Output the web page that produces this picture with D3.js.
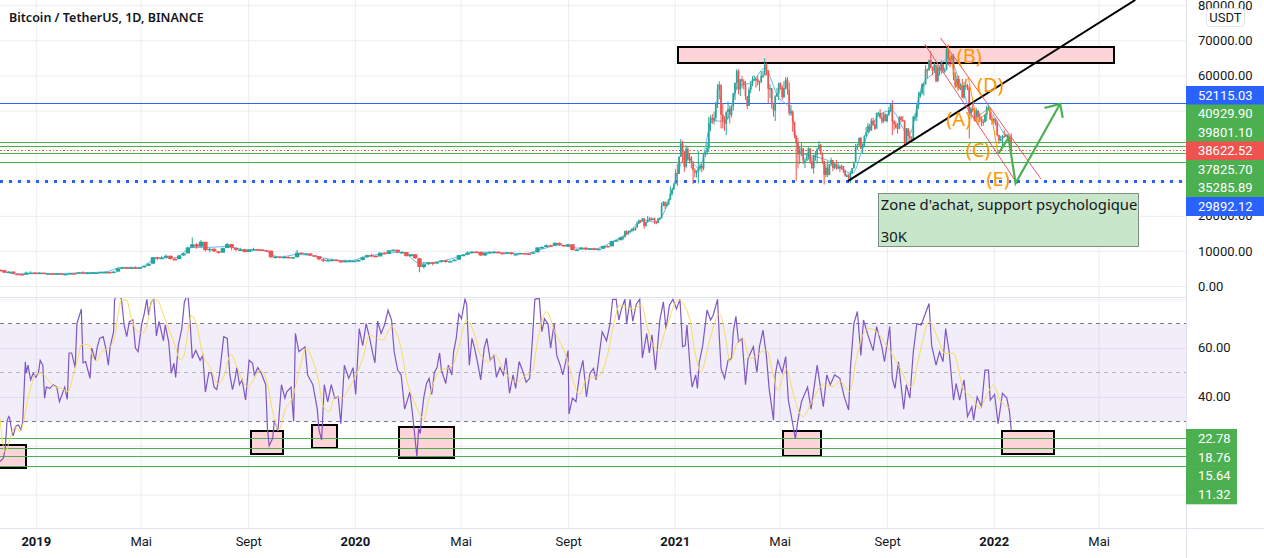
<!DOCTYPE html>
<html>
<head>
<meta charset="utf-8">
<style>
html, body { margin: 0; padding: 0; background: #fff; overflow: hidden; }
svg { display: block; font-family: Roboto, sans-serif; }
</style>
<script src="https://cdn.jsdelivr.net/npm/d3@7"></script>
</head>
<body>
<svg id="chart" width="1264" height="558"></svg>
<script>
// every day offset below counts from this first visible date
var startDate = new Date(2018, 10, 21);

// candles, thousands of USDT. 5-day steps up to oct 2020, then 2-day steps
var earlyStep = 5;
var earlyClose = [
	4.5,3.8,4.1,3.5,3.4,3.2,3.8,3.8,3.7,3.8,
	3.6,3.6,3.5,3.6,3.45,3.45,3.65,3.6,3.9,3.8,
	3.8,3.85,3.85,4.0,4.0,3.95,4.1,5.0,5.3,5.05,
	5.3,5.2,5.3,5.75,6.35,8.2,8.0,8.05,8.6,7.7,
	7.65,8.7,9.3,11.0,11.9,11.2,12.6,10.2,10.6,9.9,
	9.5,10.8,11.95,10.9,10.3,10.4,9.7,10.4,10.5,10.4,
	10.2,10.05,8.2,8.4,8.2,8.3,8.0,8.2,9.5,9.2,
	9.3,8.75,8.5,7.6,7.2,7.4,7.5,7.2,6.9,7.15,
	7.2,7.2,7.4,8.2,8.8,8.6,8.45,9.5,9.15,10.15,
	10.35,9.6,9.65,8.5,9.05,7.9,5.4,6.2,6.7,6.4,
	6.85,7.3,6.85,7.1,7.5,8.8,8.9,9.55,9.8,9.7,
	8.7,9.45,9.65,9.75,9.45,9.4,9.6,9.1,9.1,9.4,
	9.25,9.2,9.6,11.0,11.1,11.6,11.55,12.3,11.7,11.3,
	11.9,10.25,10.4,10.95,10.4,10.7,10.6,10.6,11.4,11.3,
	12.8,13.05,13.8];
var earlyHigh = [
	4.8,4.6,4.3,4.2,3.6,3.5,4.1,4.2,3.9,3.9,
	3.8,3.7,3.7,3.7,3.6,3.5,3.7,3.7,4.0,4.2,
	3.9,3.9,3.9,4.05,4.1,4.05,4.2,5.3,5.4,5.3,
	5.5,5.6,5.4,5.8,6.4,8.3,8.3,8.6,9.0,8.7,
	8.1,8.9,9.5,11.2,13.8,12.2,13.1,11.6,10.9,10.8,
	10.0,10.9,12.3,12.0,10.6,10.9,10.6,10.5,10.9,10.5,
	10.4,10.3,10.1,8.5,8.4,8.7,8.4,8.3,10.3,9.5,
	9.4,9.1,8.8,8.5,7.8,7.8,7.8,7.5,7.3,7.5,
	7.5,7.4,7.5,8.4,8.9,9.2,8.7,9.5,9.6,10.2,
	10.4,10.3,9.9,9.7,9.2,9.1,8.0,6.9,6.9,6.8,
	6.9,7.4,7.4,7.3,7.6,8.9,9.1,9.9,9.9,9.9,
	9.8,9.5,9.9,10.0,9.9,9.5,9.7,9.6,9.2,9.5,
	9.3,9.3,9.6,11.0,11.4,11.9,11.8,12.4,12.4,11.6,
	12.0,11.9,10.5,11.1,11.0,10.8,10.9,10.7,11.5,11.6,
	12.9,13.3,14.0];
var earlyLow = [
	4.3,3.7,3.7,3.4,3.3,3.2,3.4,3.7,3.6,3.7,
	3.5,3.5,3.45,3.5,3.4,3.4,3.4,3.55,3.6,3.7,
	3.7,3.75,3.8,3.85,3.95,3.9,3.9,4.1,4.9,4.95,
	5.0,5.1,5.1,5.3,5.7,6.4,7.4,7.8,8.0,7.5,
	7.5,7.6,8.6,9.3,10.8,10.6,11.0,9.9,9.6,9.6,
	9.2,9.4,10.8,10.2,9.9,10.0,9.6,9.6,10.2,10.2,
	10.0,9.9,8.0,7.8,7.9,8.0,7.9,7.9,8.1,9.0,
	9.1,8.6,8.3,7.3,6.8,7.1,7.2,7.1,6.5,6.9,
	7.1,7.1,6.9,7.3,8.0,8.3,8.2,8.3,9.0,9.1,
	9.8,9.3,9.4,8.4,8.4,7.7,3.9,5.0,6.0,5.9,
	6.3,6.6,6.6,6.8,7.1,7.4,8.6,8.8,9.2,9.5,
	8.6,8.6,9.3,9.3,9.2,9.1,9.1,8.9,8.9,9.1,
	9.2,9.1,9.1,9.5,10.6,11.0,11.1,11.3,11.4,11.2,
	11.2,10.1,10.1,10.3,10.2,10.3,10.2,10.4,10.6,11.2,
	11.3,12.8,13.0];

var lateStart = new Date(2020, 10, 1);
var lateStep = 2;
var lateClose = [
	13.7,14.0,15.6,14.8,15.3,15.7,16.3,15.9,16.7,17.8,18.7,18.4,19.2,17.1,18.2,
	18.8,19.2,19.0,19.2,18.5,18.0,19.2,19.3,22.8,23.9,22.8,23.2,24.7,26.3,27.4,29.0,
	32.2,31.9,36.8,40.6,38.2,34.0,39.1,36.0,36.6,35.5,33.0,32.3,32.5,33.5,34.3,
	33.5,37.6,38.1,39.3,46.5,47.9,47.2,47.9,52.1,55.9,57.4,48.8,47.1,46.2,
	49.6,50.4,48.8,51.2,54.9,57.8,61.2,55.9,58.9,58.3,57.4,54.1,51.3,55.9,57.6,58.9,
	59.0,58.9,58.1,58.1,59.8,60.0,63.1,61.4,56.2,56.4,51.8,50.0,54.0,54.9,57.7,
	56.6,53.8,56.4,58.8,55.9,49.2,49.7,46.8,42.9,40.7,37.5,38.7,39.3,35.7,35.7,
	36.7,39.2,35.5,33.6,37.3,37.3,39.0,40.2,38.0,35.6,31.7,33.7,31.6,34.7,35.9,
	33.6,34.7,33.7,33.9,33.8,34.2,32.7,31.4,31.5,30.8,32.1,33.6,35.3,39.5,40.0,42.2,
	39.2,39.7,42.8,43.8,45.6,44.4,47.1,46.0,44.8,49.3,49.3,48.0,46.9,48.9,47.0,
	48.8,50.0,51.7,46.8,46.1,45.1,44.9,48.1,47.3,47.2,40.7,44.9,42.8,42.2,41.5,
	48.2,48.2,51.5,54.0,55.0,57.4,57.4,61.7,61.5,64.3,62.2,61.3,63.1,58.4,62.2,61.3,
	63.2,61.4,61.5,67.5,64.9,64.2,65.5,60.1,56.9,59.0,56.3,57.1,53.7,57.2,57.0,
	56.5,49.3,50.6,50.5,47.1,50.0,48.3,47.6,46.8,46.7,48.9,50.8,50.8,47.5,47.1,
	47.7,46.4,43.0,41.5,41.8,42.7,42.6,43.1,42.2,42.4,38.6];
var lateHigh = [
	13.9,14.2,15.8,15.9,15.8,15.9,16.4,16.5,16.9,18.4,18.9,18.8,19.4,19.4,18.3,
	19.9,19.6,19.6,19.4,19.5,18.4,19.4,19.6,23.8,24.2,24.1,24.1,24.8,28.4,27.9,29.3,
	33.3,34.8,37.0,41.9,41.4,38.5,40.1,39.7,37.9,37.0,33.8,33.5,33.0,38.5,34.9,
	34.7,37.9,38.5,40.9,48.2,48.6,49.0,49.7,52.5,57.5,58.3,54.2,52.0,48.4,
	49.8,52.6,51.4,51.4,55.0,58.0,61.8,61.7,59.0,59.8,58.9,58.4,53.2,56.6,58.4,59.8,
	60.0,59.5,59.9,58.5,61.2,61.3,64.9,63.5,61.5,57.5,56.0,51.2,54.4,56.4,58.0,
	58.0,57.2,58.4,59.5,59.5,58.0,51.6,50.0,45.8,42.6,42.2,39.8,40.8,38.9,36.4,
	37.9,39.5,39.3,36.8,37.5,38.5,39.4,41.3,40.5,36.5,35.7,34.9,35.5,34.7,36.6,
	35.0,35.0,35.9,35.0,34.5,34.6,34.0,33.2,32.0,32.0,32.8,33.6,35.4,40.5,40.6,42.3,
	42.5,40.6,43.0,45.3,46.4,46.2,47.8,48.0,47.2,49.4,49.6,50.4,49.3,49.6,49.2,
	49.1,51.0,51.9,52.9,47.3,47.0,46.4,48.4,48.5,48.4,43.6,45.0,45.0,44.3,42.6,
	48.5,49.2,51.9,55.3,55.5,57.8,58.0,62.9,62.0,64.5,66.9,62.5,63.7,61.5,62.9,62.4,
	64.3,63.1,62.2,67.8,68.8,65.5,65.9,66.1,60.9,59.8,59.9,57.6,59.0,58.0,58.9,
	57.6,57.2,51.0,51.9,50.8,50.8,50.2,49.4,48.3,47.5,49.0,51.4,51.4,50.7,48.6,
	47.8,47.5,47.1,43.1,42.8,43.0,44.4,43.5,43.2,42.6,43.5];
var lateLow = [
	13.3,13.2,13.8,14.4,14.6,15.1,15.4,15.6,15.8,16.6,17.6,17.9,18.3,16.3,16.9,
	18.0,18.5,18.6,18.9,17.6,17.6,17.9,19.0,19.3,22.7,21.9,22.6,23.1,24.5,25.8,27.9,
	29.0,28.5,32.0,36.8,35.0,32.5,33.5,35.5,34.9,33.5,29.0,31.0,30.9,29.2,32.8,
	32.4,33.0,36.7,37.4,38.2,44.1,46.2,46.0,47.0,50.7,53.2,44.9,44.9,44.2,
	43.0,47.5,46.3,48.0,50.0,53.0,56.0,54.6,54.1,56.3,56.0,53.0,50.4,51.3,54.9,56.9,
	58.4,56.5,57.1,55.5,57.9,59.3,61.3,60.0,52.0,53.5,50.5,48.2,47.0,53.9,53.0,
	55.9,53.0,53.5,56.0,54.5,48.6,48.5,43.9,42.1,30.0,33.5,34.7,37.0,34.7,33.6,
	35.7,36.0,34.8,33.3,32.0,35.7,34.9,38.8,37.4,34.8,28.9,31.0,31.0,32.0,34.2,
	32.7,33.3,33.1,33.3,32.4,33.1,32.2,31.1,31.0,30.4,29.3,32.0,33.4,36.4,38.8,41.0,
	39.0,37.6,39.9,42.5,43.7,43.8,44.2,45.6,44.4,46.6,48.3,47.6,46.3,46.4,46.9,
	46.6,48.4,49.5,43.0,44.4,44.8,43.4,44.7,46.7,46.9,39.6,40.8,40.8,40.8,40.8,
	41.4,47.1,47.0,50.4,53.6,54.5,54.3,57.6,59.1,61.3,62.0,60.0,60.7,58.0,58.1,59.9,
	60.4,60.7,60.7,63.5,62.8,62.3,64.1,58.6,56.4,56.5,55.7,55.8,53.5,53.3,55.9,
	55.8,42.0,47.5,49.5,46.9,47.0,45.8,46.7,45.5,45.6,46.6,47.0,50.0,47.3,45.9,
	46.2,45.7,42.6,40.5,41.2,39.7,42.4,42.6,41.5,41.2,38.4];

// light blue average running through the candles
var priceMaDays = [0,20,40,60,80,100,120,140,160,180,200,220,240,260,280,300,320,340,360,380,400,420,440,460,480,500,520,540,560,580,600,620,640,660,680,700,720,735,750,765,775,785,800,815,830,845,860,875,890,905,915,930,945,960,975,990,1005,1020,1040,1055,1070,1085,1100,1115,1130,1150,1157];
var priceMaValues = [4.5,3.4,3.7,3.5,3.65,3.8,4.0,5.3,5.3,8.0,8.0,11.0,11.0,11.3,10.3,10.2,8.2,9.0,8.5,7.5,7.2,8.5,9.2,9.65,6.5,6.85,8.0,9.5,9.65,9.4,9.25,10.5,11.7,10.8,10.6,12.5,15.5,18.8,18.2,24,32,37,33.5,47,47,57,58,62,54,50,38,37,36,34,32,41.5,48.5,50,43,57,61,65,57,48,50,43,41];

// RSI
var rsiDays = [
	0,4,6,8,10,11,13,15,18,21,
	24,26,29,30,32,35,38,41,44,46,
	49,51,53,57,61,65,68,71,74,77,
	79,82,86,88,91,93,95,98,103,105,
	109,111,114,118,121,124,126,130,131,135,
	139,142,145,148,152,155,158,162,165,168,
	170,173,176,179,182,187,189,193,196,199,
	201,204,208,211,215,217,220,224,229,232,
	235,239,242,245,248,251,256,260,263,266,
	269,271,274,277,281,285,289,291,295,299,
	304,306,308,312,314,318,322,326,328,333,
	336,338,342,349,352,358,363,365,368,371,
	375,379,383,387,390,394,399,404,407,411,
	415,419,423,427,429,432,436,440,444,448,
	451,455,459,463,469,472,477,479,
	481,482,485,488,491,494,497,500,503,505,
	510,513,517,519,522,525,528,532,534,537,
	540,543,547,550,554,557,561,565,568,572,
	576,579,583,587,590,594,599,602,606,609,
	612,617,620,623,627,630,634,637,641,644,
	647,650,651,655,659,663,667,671,675,679,
	682,689,694,698,701,705,708,711,715,717,
	721,724,728,732,735,740,743,746,750,755,
	759,762,766,770,774,778,781,784,786,790,
	792,796,798,800,804,809,813,816,821,823,
	825,829,833,837,839,842,845,849,853,856,
	862,866,869,873,877,880,885,887,890,895,
	899,902,907,910,913,917,924,928,935,942,
	946,950,955,
	961,966,971,973,977,981,985,988,993,999,
	1003,1009,1012,1018,1021,1024,1028,1034,1037,1041,
	1045,1049,1054,1063,1066,1071,1075,1079,1082,1086,
	1091,1094,1098,1103,1107,1112,1114,1118,1123,1127,
	1131,1133,1138,1142,1147,1152,1155,1157];
var rsiValues = [
	13.5,15,19,30,32,31.5,27,24,28,28.5,
	26.5,30,54.4,49.7,53,47,49.7,48,50,55,
	53,39.5,44,43.5,45,44,38,41,44,39,
	58,58,52,70,73.5,76,54,54.5,47.6,60,
	55,60,64,64.7,60,53,60.5,66.7,79.7,83,
	80,69.5,64.7,70.8,71.5,60,58.5,69.5,74,80,
	73.5,79,80,65,71,63,69.5,62.6,49.7,53.8,
	48,61,68,79,82,73.5,55.8,59,55,57,
	42,50,49.7,44,43,49,64.7,64,49,43,
	47.6,52,45,47,38.7,55,53.8,49,52,49.7,
	45,27,20,23,30.5,26,45,39.5,42,44,
	30,66,58.5,60.5,49,45,35,26.5,22.3,45,
	38,45,39.5,40,29,53,47.6,52,41,68,
	61,70,64,57,54,71,66,69.5,75.6,71.5,
	58.5,51,49,35,42,33,15.5,27,
	25,31,40,45.5,47.6,41,50,52,58,51,
	45.5,53,49,58.5,64,74,72,80,78,53,
	64,60,53,47,60,64,55,57,48,52,
	49,56,41.5,49,43.5,54.5,49.7,46,47.6,62.6,
	80,80.5,66.7,72,70,60,70,57,53,49,
	54,59,33,39.5,38,49,55,40,49.7,51.7,
	47,66.7,63,70,80,80,71.5,76,80,70,
	80,71,78,80,56,66,58,65.4,51,71.5,
	79,68,77.6,80,76,80,60.6,61,69.5,50,
	44,49,43.5,54,61,75.6,71.5,73.5,80,64.7,
	51.7,47.6,55,55.8,66.7,73,62.6,64,45,55.8,
	60.6,50,60.6,67.4,56.5,43.5,30.5,49,55,50,
	56.5,38.7,29,22.8,30.5,38,44,35,53,36,
	49,45,49,
	47.6,40,34.6,51.7,70,75,57,71.5,65.4,59,
	68.8,60.6,54.4,68.8,47.6,43.5,54.4,35,45,39.5,
	58.5,70,69.5,78.3,61,53,58.5,54.4,68,58.5,
	38.7,45.5,38.7,47,32,36,30.5,40,36,51,
	51,38.7,41,29,41.5,39.5,34,26.5];

var rsiMaDays = [0,2,6,10,13,17,23,27,32,36,40,48,55,63,70,78,84,90,93,101,107,111,116,124,131,135,139,145,150,158,164,170,174,180,187,192,200,206,210,219,225,232,240,250,256,264,271,278,284,291,297,305,312,319,326,335,343,350,356,364,370,377,383,391,398,406,415,423,431,438,448,453,459,465,474,481,485,490,498,505,517,524,534,543,549,559,566,576,591,602,609,615,625,635,648,658,663,671,684,696,702,709,724,734,740,747,753,762,776,789,795,802,812,823,831,835,844,850,858,877,884,890,900,907,914,919,928,942,953,961,972,980,988,995,1003,1014,1028,1043,1052,1063,1073,1081,1091,1102,1113,1121,1129,1137,1144,1157];
var rsiMaValues = [31.2,24.4,17.4,21,24.4,27.8,25.8,29.9,39.4,44.9,49,49.7,46.9,44.2,43.5,42.2,49,57.2,61.5,61.5,55.8,54.7,58.5,59.9,64,73.5,79.7,79.7,72.2,66.7,66.3,72.2,79.7,79.7,73.5,68.8,61.3,55.4,56.5,73.3,69.5,57.2,52.4,45.2,48.3,57.4,52.4,46.2,44.2,47.6,51,46.9,34,26.4,34.6,40.1,51.7,59.9,56.5,47.6,36,34,40.1,39.4,42.8,47.9,55.8,65.4,64,63.3,68.8,66.7,59.9,47.6,38,32.6,30.5,38,47.6,51,52.4,59.2,71.5,65.4,57.8,54.4,57.2,51,46,49,50.3,62.6,74.9,66.7,56.5,44.2,41,47.6,48.3,58.5,69.5,77.6,76,77.6,69.5,61.3,59.2,68,79.7,72.2,58.5,50.3,63.3,74.2,62.6,54.4,62.6,64,55.8,59.2,50.3,42.8,51.4,42.2,34,31.9,37.4,44.9,44.2,46.5,42.2,55.8,66,68,66.7,61.3,53,44.2,57.2,70.8,64,57.8,57.8,43.5,39.4,35.3,40.8,44.9,38.7,35.3];

// axis ticks. 30000 to 50000 sit behind the price tags, so only the grid keeps them
var priceTicks = [0,10,20,30,40,50,60,70,80];
var priceLabelTicks = [0,10,20,60,70,80];
var rsiGridTicks = [0,20,40,60,80];
var rsiLabelTicks = [40,60];
var rsiLevels = [70,50,30];
var dateTicks = [new Date(2019,0,1),new Date(2019,4,1),new Date(2019,8,1),new Date(2020,0,1),new Date(2020,4,1),new Date(2020,8,1),new Date(2021,0,1),new Date(2021,4,1),new Date(2021,8,1),new Date(2022,0,1),new Date(2022,4,1)];
var monthNames = {4:'Mai',8:'Sept'};

// drawn levels and their price tags, top to bottom
var tagPrices = [52115.03,40929.90,39801.10,38622.52,37825.70,35285.89,29892.12];
var tagColors = ['#2962ff','#4caf50','#4caf50','#ef5350','#4caf50','#4caf50','#2962ff'];
var greenLevels = [40929.90,39801.10,37825.70,35285.89];
var rsiTagValues = [22.78,18.76,15.64,11.32];

// annotations: [day offset, price in thousands]
var resistanceBox = [[776,68.1],[1275,63.5]];
var trendLine = [[970,29.9],[1299,81.5]];
var channelLow = [[1058,68.9],[1164,29.1]];
var channelHigh = [[1076,70.7],[1191,30.5]];
var waveLine = [[1085,68.1],[1096,55.8],[1108,59.3],[1118,46.4],[1133,50.7],[1142,37.6]];
var arrowPath = [[1142,37.6],[1154,42.2],[1162,29.3],[1213,51.9]];
var arrowHead = [[1195,50.7],[1213,51.9],[1216,47.9]];
var waveLabels = ['(B)','(D)','(A)','(C)','(E)'];
var waveLabelPos = [[1109,65.5],[1133,57.3],[1097,47.6],[1119,38.7],[1142,30.5]];
var noteBox = [[1005,26.3],[1303,11.2]];
var noteLines = ["Zone d'achat, support psychologique",'30K'];

// pink boxes on the RSI pane: [first day, last day, top, bottom]
var rsiBoxes = [[-5,30,20.3,11],[287,324,26.2,16.6],[357,386,28.6,19.2],[456,519,27.8,15],[896,939,26.2,15.9],[1146,1206,26.2,16.6]];

var paneRight = 1186, topPaneBottom = 297, rsiPaneTop = 298, rsiPaneBottom = 528;

function dayAt(d) { return d3.timeDay.offset(startDate, d); }

var x = d3.scaleTime().domain([startDate, dayAt(1357)]).range([0, paneRight]);
var price = d3.scaleLinear().domain([0, 80]).range([286, 5.2]);
var rsi = d3.scaleLinear().domain([0, 80]).range([494.5, 299.3]);

var svg = d3.select('#chart');
var defs = svg.append('defs');
defs.append('clipPath').attr('id', 'topClip').append('rect').attr('width', paneRight).attr('height', topPaneBottom);
defs.append('clipPath').attr('id', 'rsiClip').append('rect').attr('y', rsiPaneTop).attr('width', paneRight).attr('height', rsiPaneBottom - rsiPaneTop);

var gridColor = '#ebedf2';
var borderColor = '#e0e3eb';

// grids
function styleGrid(g) {
	g.select('.domain').remove();
	g.selectAll('line').attr('stroke', gridColor);
	g.selectAll('text').remove();
}
svg.append('g').call(d3.axisLeft(price).tickValues(priceTicks).tickSize(-paneRight)).call(styleGrid);
svg.append('g').call(d3.axisLeft(rsi).tickValues(rsiGridTicks).tickSize(-paneRight)).call(styleGrid);
svg.append('g').attr('transform', 'translate(0,' + rsiPaneBottom + ')')
	.call(d3.axisBottom(x).tickValues(dateTicks).tickSize(-rsiPaneBottom)).call(styleGrid);

// price pane
var pricePane = svg.append('g').attr('clip-path', 'url(#topClip)');

function priceLine(points) {
	return d3.line().x(function(p) { return x(dayAt(p[0])); }).y(function(p) { return price(p[1]); })(points);
}

pricePane.selectAll('.green').data(greenLevels).enter().append('line')
	.attr('x1', 0).attr('x2', paneRight)
	.attr('y1', function(d) { return price(d / 1000); }).attr('y2', function(d) { return price(d / 1000); })
	.attr('stroke', '#4caf50').attr('stroke-width', 1).attr('shape-rendering', 'crispEdges');
pricePane.append('line').attr('x1', 0).attr('x2', paneRight)
	.attr('y1', price(tagPrices[0] / 1000)).attr('y2', price(tagPrices[0] / 1000))
	.attr('stroke', '#2962ff').attr('stroke-width', 1).attr('shape-rendering', 'crispEdges');
pricePane.append('line').attr('x1', 0).attr('x2', paneRight)
	.attr('y1', price(tagPrices[3] / 1000)).attr('y2', price(tagPrices[3] / 1000))
	.attr('stroke', '#ef5350').attr('stroke-width', 1).attr('stroke-dasharray', '1.5 2').attr('shape-rendering', 'crispEdges');
pricePane.append('line').attr('x1', 0).attr('x2', paneRight)
	.attr('y1', price(tagPrices[6] / 1000)).attr('y2', price(tagPrices[6] / 1000))
	.attr('stroke', '#2962ff').attr('stroke-width', 3).attr('stroke-dasharray', '3 6').attr('shape-rendering', 'crispEdges');

// resistance box behind the candles
pricePane.append('rect')
	.attr('x', x(dayAt(resistanceBox[0][0]))).attr('y', price(resistanceBox[0][1]))
	.attr('width', x(dayAt(resistanceBox[1][0])) - x(dayAt(resistanceBox[0][0])))
	.attr('height', price(resistanceBox[1][1]) - price(resistanceBox[0][1]))
	.attr('fill', '#fdd5d8').attr('stroke', '#000').attr('stroke-width', 2).attr('shape-rendering', 'crispEdges');

// average line
pricePane.append('path')
	.attr('d', d3.line().curve(d3.curveMonotoneX)
		.x(function(d) { return x(dayAt(d)); })
		.y(function(d, i) { return price(priceMaValues[i]); })(priceMaDays))
	.attr('fill', 'none').attr('stroke', '#64b5f6').attr('stroke-width', 1);

function drawCandles(from, step, closes, highs, lows, firstOpen, bodyWidth) {
	var rows = closes.map(function(c, i) {
		return {
			date: d3.timeDay.offset(from, i * step),
			open: i ? closes[i - 1] : firstOpen,
			close: c, high: highs[i], low: lows[i]
		};
	});
	var g = pricePane.append('g');
	var candle = g.selectAll('g').data(rows).enter().append('g');
	candle.append('line')
		.attr('x1', function(d) { return x(d.date); }).attr('x2', function(d) { return x(d.date); })
		.attr('y1', function(d) { return price(d.high); }).attr('y2', function(d) { return price(d.low); })
		.attr('stroke', candleColor).attr('stroke-width', 1);
	candle.append('rect')
		.attr('x', function(d) { return x(d.date) - bodyWidth / 2; })
		.attr('width', bodyWidth)
		.attr('y', function(d) { return price(Math.max(d.open, d.close)); })
		.attr('height', function(d) { return Math.max(1.5, Math.abs(price(d.open) - price(d.close))); })
		.attr('fill', candleColor);
}
function candleColor(d) { return d.close >= d.open ? '#26a69a' : '#ef5350'; }

drawCandles(startDate, earlyStep, earlyClose, earlyHigh, earlyLow, 4.6, 4.4);
drawCandles(lateStart, lateStep, lateClose, lateHigh, lateLow, 13.8, 1.7);

// drawings over the candles
pricePane.append('path').attr('d', priceLine(trendLine)).attr('fill', 'none').attr('stroke', '#000').attr('stroke-width', 2);
[channelLow, channelHigh].forEach(function(c) {
	pricePane.append('path').attr('d', priceLine(c)).attr('fill', 'none').attr('stroke', '#f7525f').attr('stroke-width', 1);
});
pricePane.append('path').attr('d', priceLine(waveLine)).attr('fill', 'none').attr('stroke', '#ff9800').attr('stroke-width', 1);
[arrowPath, arrowHead].forEach(function(c) {
	pricePane.append('path').attr('d', priceLine(c)).attr('fill', 'none').attr('stroke', '#4caf50').attr('stroke-width', 2.2);
});
pricePane.selectAll('.wave').data(waveLabels).enter().append('text')
	.attr('x', function(d, i) { return x(dayAt(waveLabelPos[i][0])); })
	.attr('y', function(d, i) { return price(waveLabelPos[i][1]); })
	.attr('dy', '0.35em').attr('text-anchor', 'middle')
	.attr('fill', '#ff9800').attr('font-size', 20).attr('font-family', "'Noto Sans', sans-serif")
	.text(function(d) { return d; });

// note box
var noteX = x(dayAt(noteBox[0][0])), noteY = price(noteBox[0][1]);
pricePane.append('rect').attr('x', noteX).attr('y', noteY)
	.attr('width', x(dayAt(noteBox[1][0])) - noteX)
	.attr('height', price(noteBox[1][1]) - noteY)
	.attr('fill', '#c8e6c9').attr('stroke', '#7f9082').attr('stroke-width', 1).attr('shape-rendering', 'crispEdges');
pricePane.selectAll('.note').data(noteLines).enter().append('text')
	.attr('x', noteX + 2.5).attr('y', function(d, i) { return noteY + 16 + i * 32; })
	.attr('fill', '#131722').attr('font-size', 14.8).attr('font-family', "'Noto Sans', sans-serif")
	.text(function(d) { return d; });

// rsi pane
var rsiPane = svg.append('g').attr('clip-path', 'url(#rsiClip)');
rsiPane.append('rect').attr('x', 0).attr('width', paneRight)
	.attr('y', rsi(rsiLevels[0])).attr('height', rsi(rsiLevels[2]) - rsi(rsiLevels[0]))
	.attr('fill', '#7e57c2').attr('fill-opacity', 0.1);
rsiPane.selectAll('.lvl').data(rsiLevels).enter().append('line')
	.attr('x1', 0).attr('x2', paneRight)
	.attr('y1', function(d) { return rsi(d); }).attr('y2', function(d) { return rsi(d); })
	.attr('stroke', '#787b86').attr('stroke-dasharray', '4 4').attr('shape-rendering', 'crispEdges')
	.attr('stroke-opacity', function(d) { return d === 50 ? 0.5 : 1; });
rsiPane.selectAll('.box').data(rsiBoxes).enter().append('rect')
	.attr('x', function(d) { return x(dayAt(d[0])); })
	.attr('y', function(d) { return rsi(d[2]); })
	.attr('width', function(d) { return x(dayAt(d[1])) - x(dayAt(d[0])); })
	.attr('height', function(d) { return rsi(d[3]) - rsi(d[2]); })
	.attr('fill', '#fdd5d8').attr('stroke', '#000').attr('stroke-width', 2).attr('shape-rendering', 'crispEdges');
rsiPane.selectAll('.grn').data(rsiTagValues).enter().append('line')
	.attr('x1', 0).attr('x2', paneRight)
	.attr('y1', function(d) { return rsi(d); }).attr('y2', function(d) { return rsi(d); })
	.attr('stroke', '#4caf50').attr('stroke-width', 1).attr('shape-rendering', 'crispEdges');
rsiPane.append('path')
	.attr('d', d3.line().x(function(d) { return x(dayAt(d)); }).y(function(d, i) { return rsi(rsiValues[i]); })(rsiDays))
	.attr('fill', 'none').attr('stroke', '#7e57c2').attr('stroke-width', 1.2);
rsiPane.append('path')
	.attr('d', d3.line().curve(d3.curveMonotoneX).x(function(d) { return x(dayAt(d)); }).y(function(d, i) { return rsi(rsiMaValues[i]); })(rsiMaDays))
	.attr('fill', 'none').attr('stroke', '#f9dc5c').attr('stroke-width', 1);

// pane borders
function border(x1, y1, x2, y2) {
	svg.append('line').attr('x1', x1).attr('y1', y1).attr('x2', x2).attr('y2', y2).attr('stroke', borderColor).attr('stroke-width', 1);
}
border(0, 297.5, paneRight, 297.5);
border(0, 528.5, 1264, 528.5);
border(paneRight + 0.5, 0, paneRight + 0.5, 558);

// axes
function styleAxis(g) {
	g.select('.domain').remove();
	g.selectAll('line').remove();
	g.selectAll('text').attr('font-size', 13).attr('font-family', 'Roboto, sans-serif').attr('fill', '#131722');
}
svg.append('g').attr('transform', 'translate(' + paneRight + ',0)')
	.call(d3.axisRight(price).tickValues(priceLabelTicks).tickSize(0).tickPadding(12)
		.tickFormat(function(d) { return (d * 1000).toFixed(2); })).call(styleAxis);
svg.append('g').attr('transform', 'translate(' + paneRight + ',-1)')
	.call(d3.axisRight(rsi).tickValues(rsiLabelTicks).tickSize(0).tickPadding(12)
		.tickFormat(function(d) { return d.toFixed(2); })).call(styleAxis);
svg.append('g').attr('transform', 'translate(0,' + rsiPaneBottom + ')')
	.call(d3.axisBottom(x).tickValues(dateTicks).tickSize(0).tickPadding(9)
		.tickFormat(function(d) { return d.getMonth() === 0 ? d.getFullYear() : monthNames[d.getMonth()]; }))
	.call(styleAxis)
	.selectAll('text').attr('font-weight', function(d) { return d.getMonth() === 0 ? 700 : 400; });

// price tags, stacked so they do not overlap
var tagTop = 86, tagHeight = 18.5;
var tags = svg.selectAll('.tag').data(tagPrices).enter().append('g');
tags.append('rect').attr('x', paneRight).attr('y', function(d, i) { return tagTop + i * tagHeight; })
	.attr('width', 78).attr('height', tagHeight + 0.5)
	.attr('fill', function(d, i) { return tagColors[i]; });
tags.append('text').attr('x', 1198).attr('y', function(d, i) { return tagTop + i * tagHeight + tagHeight / 2; })
	.attr('dy', '0.35em').attr('fill', '#fff').attr('font-size', 13)
	.text(function(d) { return d.toFixed(2); });

var rsiTagTop = 429, rsiTagHeight = 18.7;
var rsiTags = svg.selectAll('.rtag').data(rsiTagValues).enter().append('g');
rsiTags.append('rect').attr('x', paneRight).attr('y', function(d, i) { return rsiTagTop + i * rsiTagHeight; })
	.attr('width', 51).attr('height', rsiTagHeight + 0.5).attr('fill', '#4caf50');
rsiTags.append('text').attr('x', 1198).attr('y', function(d, i) { return rsiTagTop + i * rsiTagHeight + rsiTagHeight / 2; })
	.attr('dy', '0.35em').attr('fill', '#fff').attr('font-size', 13)
	.text(function(d) { return d.toFixed(2); });

// currency button
svg.append('rect').attr('x', 1206.5).attr('y', 8.5).attr('width', 38).attr('height', 18).attr('rx', 4)
	.attr('fill', '#fff').attr('stroke', borderColor);
svg.append('text').attr('x', 1225.5).attr('y', 17.5).attr('dy', '0.35em').attr('text-anchor', 'middle')
	.attr('font-size', 13).attr('fill', '#131722').text('USDT');

// title
svg.append('text').attr('x', 9).attr('y', 18).attr('dy', '0.35em')
	.attr('font-size', 12.5).attr('font-weight', 600).attr('font-family', "'Noto Sans', sans-serif").attr('fill', '#131722')
	.text('Bitcoin / TetherUS, 1D, BINANCE');
</script>
</body>
</html>
